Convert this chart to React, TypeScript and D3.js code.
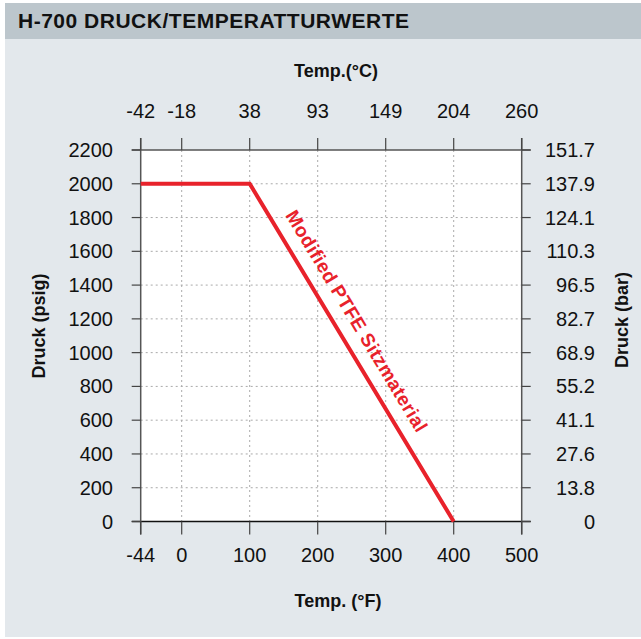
import * as d3 from 'd3'
import { useMemo } from 'react'

// temperatures (°F) at the tick marks and matching °C labels on the top axis
const tempF = [-44, 0, 100, 200, 300, 400, 500]
const tempCLabels = ['-42', '-18', '38', '93', '149', '204', '260']

// pressure ticks (psig) and the matching bar labels on the right axis
const psiTicks = [0, 200, 400, 600, 800, 1000, 1200, 1400, 1600, 1800, 2000, 2200]
const barLabels = ['0', '13.8', '27.6', '41.1', '55.2', '68.9', '82.7', '96.5', '110.3', '124.1', '137.9', '151.7']

// seat rating curve
const seatTemps = [-44, 100, 400]
const seatPressure = [2000, 2000, 0]
const seatLabel = 'Modified PTFE Sitzmaterial'

const title = 'H-700 DRUCK/TEMPERATTURWERTE'

const font = "'Liberation Sans', Arial, Helvetica, sans-serif"

const App = () => {
    const width = 641
    const height = 639

    const left = 140.7
    const right = 521.7
    const top = 150
    const bottom = 521.5

    // the -44 end of the axis is squeezed against 0 in the original, so piecewise
    const x = useMemo(() => {
        return d3
            .scaleLinear()
            .domain([-44, 0, 500])
            .range([left, left + 41, right])
    }, [])

    const y = useMemo(() => {
        return d3
            .scaleLinear()
            .domain([0, 2200])
            .range([bottom, top])
    }, [])

    const line = d3
        .line<number>()
        .x(d => x(seatTemps[d]))
        .y(d => y(seatPressure[d]))

    const path = line(seatTemps.map((_, i) => i)) || ''

    // label sits along the sloped segment
    const x1 = x(seatTemps[1]), y1 = y(seatPressure[1])
    const x2 = x(seatTemps[2]), y2 = y(seatPressure[2])
    const angle = (Math.atan2(y2 - y1, x2 - x1) * 180) / Math.PI
    const t = 0.438
    const lx = x1 + (x2 - x1) * t
    const ly = y1 + (y2 - y1) * t

    const tickColor = '#444'
    const tickSize = 20

    return (
        <div>
            <style>{'body{margin:0}'}</style>
            <svg width={width} height={height} style={{ display: 'block', fontFamily: font }}>
                <rect x={0} y={0} width={width} height={height} fill="#fff" />
                <rect x={5} y={39} width={width - 5} height={598} fill="#e3e8ec" />
                <rect x={5} y={3} width={width - 5} height={36} fill="#bcc6cc" />
                <text x={18} y={28} fontSize={21} fontWeight="bold" fill="#111"
                    textLength={391} lengthAdjust="spacing">{title}</text>

                <rect x={left} y={top} width={right - left} height={bottom - top} fill="#fff" />

                {/* grid */}
                {tempF.slice(1, -1).map(v => (
                    <line key={'gx' + v} x1={x(v)} x2={x(v)} y1={top} y2={bottom}
                        stroke="#aaa" strokeDasharray="2,3" />
                ))}
                {psiTicks.slice(1, -1).map(v => (
                    <line key={'gy' + v} x1={left} x2={right} y1={y(v)} y2={y(v)}
                        stroke="#aaa" strokeDasharray="2,3" />
                ))}

                {/* axis lines */}
                <line x1={left - 9} x2={right + 9} y1={top} y2={top} stroke="#555" strokeWidth={1.5} />
                <line x1={left - 9} x2={right + 9} y1={bottom} y2={bottom} stroke="#111" strokeWidth={1.5} />
                <line x1={left} x2={left} y1={top - 12} y2={bottom + 13} stroke="#555" strokeWidth={1.5} />
                <line x1={right} x2={right} y1={top - 12} y2={bottom + 13} stroke="#555" strokeWidth={1.5} />

                {/* top axis (°C) */}
                {tempF.map((v, i) => (
                    <g key={'tc' + v}>
                        <line x1={x(v)} x2={x(v)} y1={top - 12} y2={top} stroke={tickColor} strokeWidth={1.2} />
                        <text x={x(v)} y={118} fontSize={tickSize} textAnchor="middle" fill="#111">{tempCLabels[i]}</text>
                    </g>
                ))}

                {/* bottom axis (°F) */}
                {tempF.map(v => (
                    <g key={'tf' + v}>
                        <line x1={x(v)} x2={x(v)} y1={bottom} y2={bottom + 13} stroke={tickColor} strokeWidth={1.2} />
                        <text x={x(v)} y={562} fontSize={tickSize} textAnchor="middle" fill="#111">{v}</text>
                    </g>
                ))}

                {/* left axis (psig) */}
                {psiTicks.map(v => (
                    <g key={'lp' + v}>
                        <line x1={left - 9} x2={left} y1={y(v)} y2={y(v)} stroke={tickColor} strokeWidth={1.2} />
                        <text x={113} y={y(v)} dy="0.35em" fontSize={tickSize} textAnchor="end" fill="#111">{v}</text>
                    </g>
                ))}

                {/* right axis (bar) */}
                {psiTicks.map((v, i) => (
                    <g key={'rb' + v}>
                        <line x1={right} x2={right + 9} y1={y(v)} y2={y(v)} stroke={tickColor} strokeWidth={1.2} />
                        <text x={595} y={y(v)} dy="0.35em" fontSize={tickSize} textAnchor="end" fill="#111">{barLabels[i]}</text>
                    </g>
                ))}

                {/* axis titles */}
                <text x={336} y={77} fontSize={18} fontWeight="bold" textAnchor="middle" fill="#111">Temp.(°C)</text>
                <text x={338} y={607} fontSize={18} fontWeight="bold" textAnchor="middle" fill="#111">Temp. (°F)</text>
                <text transform="translate(45,326) rotate(-90)" fontSize={18} fontWeight="bold"
                    textAnchor="middle" fill="#111">Druck (psig)</text>
                <text transform="translate(628,320) rotate(-90)" fontSize={18} fontWeight="bold"
                    textAnchor="middle" fill="#111">Druck (bar)</text>

                {/* rating curve */}
                <path d={path} fill="none" stroke="#e8222b" strokeWidth={4} strokeLinejoin="miter" />
                <text transform={`translate(${lx},${ly}) rotate(${angle})`} y={-14}
                    fontSize={19} fontWeight="bold" textAnchor="middle" fill="#e8222b"
                    textLength={255} lengthAdjust="spacing">{seatLabel}</text>
            </svg>
        </div>
    )
}

export default App
